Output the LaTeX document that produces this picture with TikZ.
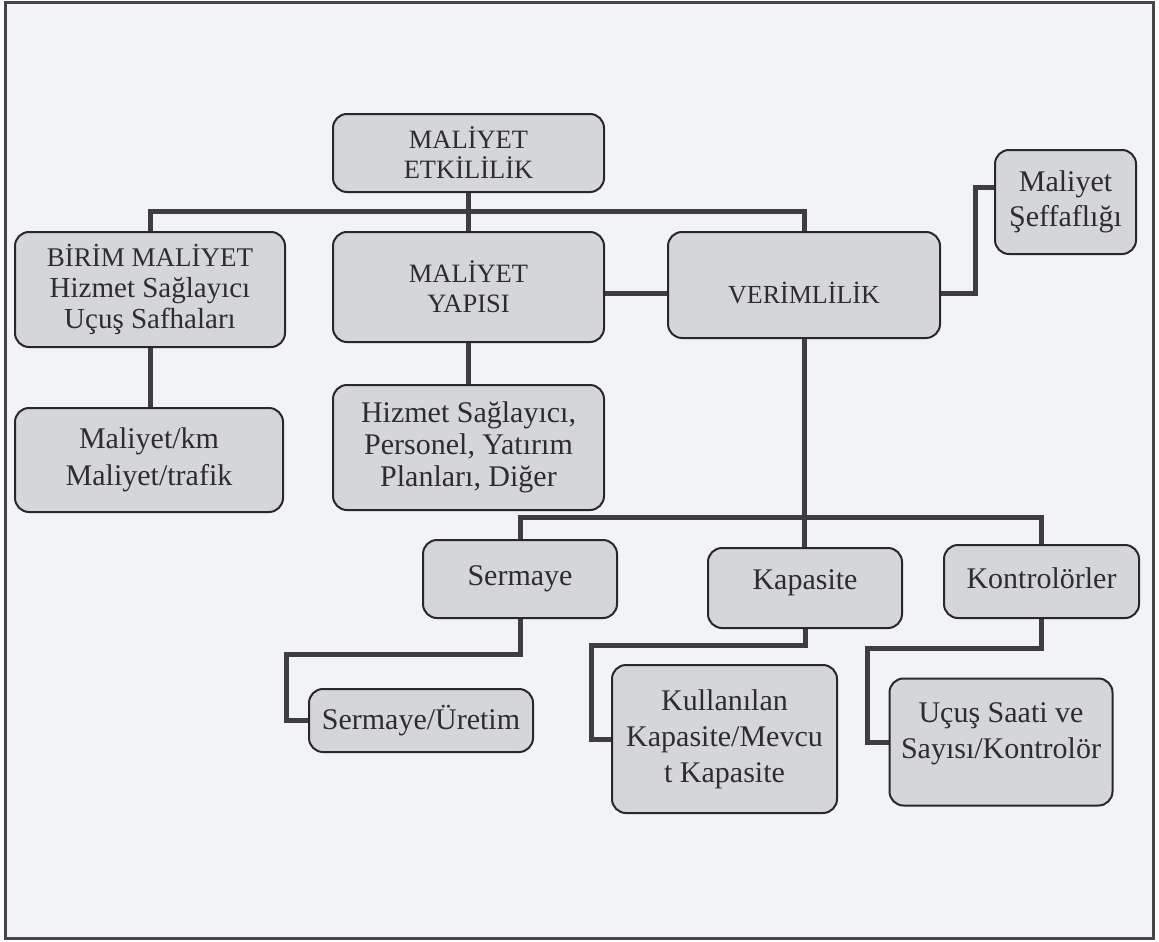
\documentclass[tikz,border=0pt]{standalone}
\usepackage{fontspec}
\setmainfont{Liberation Serif}
\usetikzlibrary{backgrounds}
\definecolor{pagebg}{RGB}{242,243,246}
\definecolor{boxfill}{RGB}{212,214,218}
\definecolor{boxline}{RGB}{40,40,42}
\definecolor{connc}{RGB}{62,62,64}
\definecolor{framec}{RGB}{70,70,72}
\definecolor{txt}{RGB}{45,45,48}
\newcommand{\fsz}[2]{\fontsize{#1}{#2}\selectfont}
\pgfdeclarelayer{bottom}
\pgfsetlayers{bottom,background,main}
\begin{document}
\begin{tikzpicture}[x=1pt,y=-1pt,
  box/.style={draw=boxline, line width=2pt, fill=boxfill, rounded corners=14pt,
    inner sep=0pt, text=txt, align=center},
  conn/.style={draw=connc, line width=5pt, line join=miter}]
\useasboundingbox (0,0) rectangle (1159,942);
\begin{pgfonlayer}{bottom}
\fill[white] (0,0) rectangle (1159,942);
\draw[framec, line width=3pt, fill=pagebg] (5,3) rectangle (1153,938);
\end{pgfonlayer}

% nodes
\node[box, minimum width=271pt, minimum height=78pt, font=\fsz{26.5}{30}] (etk) at (468.5,153) {MALİYET\\ETKİLİLİK};
\node[box, minimum width=270pt, minimum height=115pt, font=\fsz{29}{31}] (birim) at (150,289.5) {{\fsz{27}{31}BİRİM MALİYET}\\Hizmet Sağlayıcı\\Uçuş Safhaları};
\node[box, minimum width=271pt, minimum height=110pt, font=\fsz{26.5}{30}] (yapisi) at (468.5,287) {MALİYET\\YAPISI};
\node[box, minimum width=272pt, minimum height=106pt, font=\fsz{26}{31}] (verim) at (804,285) {\raisebox{-8pt}[\height][\depth]{VERİMLİLİK}};
\node[box, minimum width=141pt, minimum height=104pt, font=\fsz{30}{35}] (seff) at (1065.5,202) {Maliyet\\Şeffaflığı};
\node[box, minimum width=268pt, minimum height=104pt, font=\fsz{30}{37}] (malkm) at (149,460) {Maliyet/km\\Maliyet/trafik};
\node[box, minimum width=271pt, minimum height=125pt, font=\fsz{30}{32}] (hizmet) at (468.5,447.5) {Hizmet Sağlayıcı,\\Personel, Yatırım\\Planları, Diğer};
\node[box, minimum width=194pt, minimum height=78pt, font=\fsz{30}{36}] (sermaye) at (520,579) {Sermaye};
\node[box, minimum width=194pt, minimum height=80pt, font=\fsz{30}{36}] (kapasite) at (805,588) {\raisebox{5pt}[\height][\depth]{Kapasite}};
\node[box, minimum width=195pt, minimum height=73pt, font=\fsz{30}{36}] (kontrol) at (1041.5,581.5) {\raisebox{3pt}[\height][\depth]{Kontrolörler}};
\node[box, minimum width=224pt, minimum height=63pt, font=\fsz{30}{36}] (sermuret) at (421,720.5) {Sermaye/Üretim};
\node[box, minimum width=225pt, minimum height=148pt, font=\fsz{30}{36}] (kullan) at (724.5,739) {Kullanılan\\Kapasite/Mevcu\\t Kapasite};
\node[box, minimum width=223pt, minimum height=127pt, font=\fsz{30}{36}] (ucus) at (1001,742) {\raisebox{9pt}[\height][\depth]{\begin{tabular}{@{}c@{}}Uçuş Saati ve\\Sayısı/Kontrolör\end{tabular}}};

% bend points
\coordinate (k1) at (975,293);
\coordinate (c1) at (286,654);
\coordinate (c2) at (591,645);
\coordinate (c3) at (867,648);

% connectors, behind the boxes
\begin{pgfonlayer}{background}
\draw[conn] (birim.north) -- ++(0,-20) -| (verim.north);
\draw[conn] (etk.south) -- (yapisi.north);
\draw[conn] (birim.south) -- (malkm.north -| birim.south);
\draw[conn] (yapisi.south) -- (hizmet.north);
\draw[conn] (k1 -| yapisi.east) -- (k1 -| verim.west);
\draw[conn] (k1 -| verim.east) -- (k1) |- ([yshift=15pt]seff.west);
\draw[conn] (verim.south) -- (kapasite.north -| verim.south);
\draw[conn] (sermaye.north) -- ++(0,-22) -| (kontrol.north);
\draw[conn] (sermaye.south) |- (c1) |- (sermuret.west);
\draw[conn] (kapasite.south) |- (c2) |- (kullan.west);
\draw[conn] (kontrol.south) |- (c3) |- (ucus.west);
\end{pgfonlayer}
\end{tikzpicture}
\end{document}
